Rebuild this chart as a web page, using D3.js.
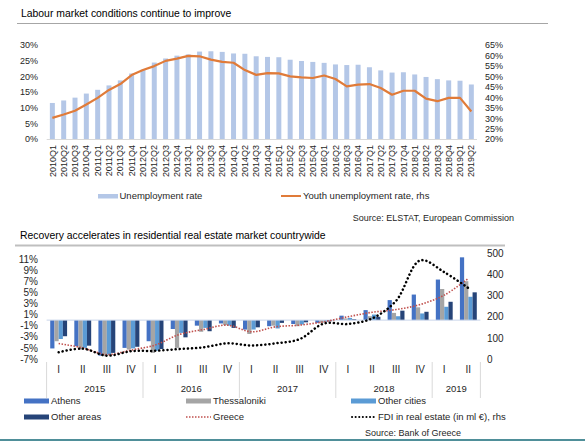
<!DOCTYPE html>
<html><head><meta charset="utf-8">
<script src="https://cdn.jsdelivr.net/npm/d3@7"></script>
<style>
body{margin:0;background:#fff;}
svg{display:block;font-family:"Liberation Sans",Arial,sans-serif;}
</style></head>
<body><svg id="c" width="585" height="441"></svg>
<script>
// ---------- Chart 1 data ----------
const quarters = ["2010Q1","2010Q2","2010Q3","2010Q4","2011Q1","2011Q2","2011Q3","2011Q4",
"2012Q1","2012Q2","2012Q3","2012Q4","2013Q1","2013Q2","2013Q3","2013Q4",
"2014Q1","2014Q2","2014Q3","2014Q4","2015Q1","2015Q2","2015Q3","2015Q4",
"2016Q1","2016Q2","2016Q3","2016Q4","2017Q1","2017Q2","2017Q3","2017Q4",
"2018Q1","2018Q2","2018Q3","2018Q4","2019Q1","2019Q2"];
const unemployment = [11.5,12.3,13.2,14.5,15.7,17.1,18.7,20.9,22.1,24.4,25.7,26.6,27.0,27.9,28.0,27.8,
27.3,27.2,26.4,26.2,26.1,25.3,24.9,24.6,24.3,23.8,23.6,23.7,22.9,21.9,21.2,21.3,20.6,19.8,19.1,18.7,18.6,17.4];
const youthUnemployment = [30.1,31.7,33.5,36.5,39.7,43.5,46.3,50.6,53.0,54.9,57.4,58.5,59.8,59.6,58.0,56.9,
56.5,53.0,50.7,51.5,51.4,50.0,49.5,49.2,50.4,48.7,45.2,46.0,46.3,44.4,41.2,43.1,43.1,39.3,38.1,39.7,39.7,33.2];
const leftTicks1 = [0,5,10,15,20,25,30];
const rightTicks1 = [20,25,30,35,40,45,50,55,60,65];

// ---------- Chart 2 data ----------
const periods = ["2015-I","2015-II","2015-III","2015-IV","2016-I","2016-II","2016-III","2016-IV",
"2017-I","2017-II","2017-III","2017-IV","2018-I","2018-II","2018-III","2018-IV","2019-I","2019-II"];
const quarterLabels = ["I","II","III","IV","I","II","III","IV","I","II","III","IV","I","II","III","IV","I","II"];
const years = ["2015","2016","2017","2018","2019"];
const yearSpans = [4,4,4,4,2];
const athens =       [-5.1,-4.7,-6.4,-5.0,-3.8,-1.6,-1.0,-0.6,-1.7,-1.1,-0.7,-0.5,0.8,1.8,3.6,4.6,7.3,11.3];
const thessaloniki = [-3.8,-5.3,-6.5,-5.3,-5.9,-5.0,-2.1,-0.9,-2.5,-1.0,-1.1,-0.5,0.3,0.7,1.3,2.3,5.6,7.0];
const otherCities =  [-3.4,-5.0,-6.2,-5.1,-5.5,-2.3,-1.4,-1.0,-1.7,-1.5,-0.8,-0.3,0.4,1.0,0.7,1.2,2.4,4.2];
const otherAreas =   [-2.9,-4.6,-5.9,-4.8,-5.2,-3.1,-2.0,-1.4,-1.3,-0.5,-0.4,-0.2,0.15,0.6,1.7,1.5,3.3,5.0];
const greece =       [-4.2,-5.0,-6.2,-5.4,-4.5,-2.6,-1.7,-0.9,-2.1,-1.2,-0.9,-0.3,0.6,1.4,1.9,2.8,4.5,7.5];
const fdi =          [33,50,17,38,40,48,56,75,65,75,95,168,166,192,275,465,410,335];
const leftTicks2 = [-7,-5,-3,-1,1,3,5,7,9,11];
const rightTicks2 = [0,100,200,300,400,500];
const seriesNames = ["Athens","Thessaloniki","Other cities","Other areas"];
const seriesColors = ["#4472c4","#a5a5a5","#5b9bd5","#264478"];

const svg = d3.select("#c");
const txt = "#262626";

// ================= Chart 1 =================
svg.append("text").attr("x",21).attr("y",17).attr("font-size",10.4).attr("fill","#000")
  .text("Labour market conditions continue to improve");
svg.append("line").attr("x1",17).attr("x2",548).attr("y1",23.5).attr("y2",23.5)
  .attr("stroke","#a6a6a6").attr("stroke-width",1);

const x1 = d3.scaleBand().domain(quarters).range([46.7,477]).paddingInner(0.56).paddingOuter(0.28);
const y1L = d3.scaleLinear().domain([0,30]).range([139,45]);
const y1R = d3.scaleLinear().domain([20,65]).range([139,45]);

svg.append("g").selectAll("rect").data(unemployment).join("rect")
  .attr("x",(d,i)=>x1(quarters[i])).attr("width",x1.bandwidth())
  .attr("y",d=>y1L(d)).attr("height",d=>y1L(0)-y1L(d)).attr("fill","#b4c7e7");

svg.append("line").attr("x1",46.7).attr("x2",477).attr("y1",139.5).attr("y2",139.5)
  .attr("stroke","#d9d9d9");

const line1 = d3.line().x((d,i)=>x1(quarters[i])+x1.bandwidth()/2).y(d=>y1R(d));
svg.append("path").datum(youthUnemployment).attr("d",line1).attr("fill","none")
  .attr("stroke","#e07b39").attr("stroke-width",2.2).attr("stroke-linejoin","round");

const axL1 = d3.axisLeft(y1L).tickValues(leftTicks1).tickFormat(d=>d+"%").tickSize(0).tickPadding(0);
const gL1 = svg.append("g").attr("transform","translate(38,0)").call(axL1);
const axR1 = d3.axisRight(y1R).tickValues(rightTicks1).tickFormat(d=>d+"%").tickSize(0).tickPadding(0);
const gR1 = svg.append("g").attr("transform","translate(485,0)").call(axR1);
const axB1 = d3.axisBottom(x1).tickSize(0).tickPadding(0);
const gB1 = svg.append("g").attr("transform","translate(0,145)").call(axB1);
gB1.selectAll("text").attr("transform","rotate(-90)").attr("text-anchor","end")
  .attr("x",0).attr("y",0).attr("dy","0.35em").attr("dx",0);
[gL1,gR1,gB1].forEach(g=>{g.select(".domain").remove();
  g.selectAll("text").attr("font-size",9).attr("fill",txt).attr("font-family","Liberation Sans, Arial, sans-serif");});

// legend 1
svg.append("rect").attr("x",98).attr("y",194).attr("width",20).attr("height",4.5).attr("fill","#b4c7e7");
svg.append("text").attr("x",119.5).attr("y",196).attr("dy","0.35em").attr("font-size",9.5).attr("fill",txt).text("Unemployment rate");
svg.append("line").attr("x1",281).attr("x2",301).attr("y1",196).attr("y2",196).attr("stroke","#e07b39").attr("stroke-width",2);
svg.append("text").attr("x",303).attr("y",196).attr("dy","0.35em").attr("font-size",9.5).attr("fill",txt).text("Youth unemployment rate, rhs");
svg.append("text").attr("x",514).attr("y",218).attr("dy","0.35em").attr("text-anchor","end").attr("font-size",9).attr("fill",txt)
  .text("Source: ELSTAT, European Commission");

// ================= Chart 2 =================
svg.append("text").attr("x",20).attr("y",239).attr("font-size",10.4).attr("fill","#000")
  .text("Recovery accelerates in residential real estate market countrywide");
svg.append("line").attr("x1",15).attr("x2",505).attr("y1",245.5).attr("y2",245.5)
  .attr("stroke","#bfbfbf").attr("stroke-width",2);

const x2 = d3.scaleBand().domain(periods).range([46.6,480.4]).paddingInner(0.3).paddingOuter(0.15);
const xs = d3.scaleBand().domain(seriesNames).range([0,x2.bandwidth()]);
const y2L = d3.scaleLinear().domain([-7,11]).range([359,259]);
const y2R = d3.scaleLinear().domain([0,500]).range([359.3,253]);
const allSeries = [athens,thessaloniki,otherCities,otherAreas];

allSeries.forEach((vals,s)=>{
  svg.append("g").selectAll("rect").data(vals).join("rect")
    .attr("x",(d,i)=>x2(periods[i])+xs(seriesNames[s])).attr("width",xs.bandwidth())
    .attr("y",d=>Math.min(y2L(d),y2L(0))).attr("height",d=>Math.abs(y2L(d)-y2L(0)))
    .attr("fill",seriesColors[s]);
});
svg.append("line").attr("x1",46.6).attr("x2",480.4).attr("y1",y2L(0)).attr("y2",y2L(0))
  .attr("stroke","#c9d5ea").attr("stroke-width",1);

const cx2 = (d,i)=>x2(periods[i])+x2.bandwidth()/2;
svg.append("path").datum(greece).attr("d",d3.line().x(cx2).y(d=>y2L(d)).curve(d3.curveCatmullRom))
  .attr("fill","none").attr("stroke","#c0504d").attr("stroke-width",1.6).attr("stroke-dasharray","1.5,1.5");
svg.append("path").datum(fdi).attr("d",d3.line().x(cx2).y(d=>y2R(d)).curve(d3.curveCatmullRom))
  .attr("fill","none").attr("stroke","#000").attr("stroke-width",2.5).attr("stroke-linecap","round")
  .attr("stroke-dasharray","0.1,4");

const axL2 = d3.axisLeft(y2L).tickValues(leftTicks2).tickFormat(d=>d+"%").tickSize(0).tickPadding(0);
const gL2 = svg.append("g").attr("transform","translate(38,0)").call(axL2);
const axR2 = d3.axisRight(y2R).tickValues(rightTicks2).tickSize(0).tickPadding(0);
const gR2 = svg.append("g").attr("transform","translate(487,0)").call(axR2);
const axB2 = d3.axisBottom(x2).tickSize(0).tickPadding(0).tickFormat((d,i)=>quarterLabels[i]);
const gB2 = svg.append("g").attr("transform","translate(0,366)").call(axB2);
[gL2,gR2,gB2].forEach(g=>{g.select(".domain").remove();
  g.selectAll("text").attr("font-size",10).attr("fill",txt).attr("font-family","Liberation Sans, Arial, sans-serif");});

// year groups
let start = 0;
const step = x2.step();
const x0 = x2.range()[0];
svg.append("line").attr("x1",x0).attr("x2",x0).attr("y1",362).attr("y2",398).attr("stroke","#d9d9d9");
years.forEach((y,k)=>{
  const a = x2(periods[start]) - x2.paddingInner()*step/2;
  const b = a + yearSpans[k]*step;
  svg.append("line").attr("x1",b).attr("x2",b).attr("y1",362).attr("y2",398).attr("stroke","#d9d9d9");
  svg.append("text").attr("x",(a+b)/2).attr("y",389).attr("dy","0.35em").attr("text-anchor","middle")
    .attr("font-size",9.5).attr("fill",txt).text(y);
  start += yearSpans[k];
});

// legend 2
const lg = [
  {n:"Athens",x:24,y:401,type:"rect",c:seriesColors[0]},
  {n:"Thessaloniki",x:186,y:401,type:"rect",c:seriesColors[1]},
  {n:"Other cities",x:351,y:401,type:"rect",c:seriesColors[2]},
  {n:"Other areas",x:24,y:417,type:"rect",c:seriesColors[3]},
  {n:"Greece",x:186,y:417,type:"red"},
  {n:"FDI in real estate (in ml €), rhs",x:351,y:417,type:"black"}
];
lg.forEach(l=>{
  if(l.type==="rect"){
    svg.append("rect").attr("x",l.x).attr("y",l.y-2.5).attr("width",25).attr("height",5).attr("fill",l.c);
  } else if(l.type==="red"){
    svg.append("line").attr("x1",l.x).attr("x2",l.x+25).attr("y1",l.y).attr("y2",l.y)
      .attr("stroke","#c0504d").attr("stroke-width",1.5).attr("stroke-dasharray","1.5,1.5");
  } else {
    svg.append("line").attr("x1",l.x+1).attr("x2",l.x+25).attr("y1",l.y).attr("y2",l.y)
      .attr("stroke","#000").attr("stroke-width",2).attr("stroke-linecap","round").attr("stroke-dasharray","0.1,3.5");
  }
  svg.append("text").attr("x",l.x+27).attr("y",l.y).attr("dy","0.35em").attr("font-size",9.5).attr("fill",txt).text(l.n);
});
svg.append("text").attr("x",461).attr("y",433).attr("dy","0.35em").attr("text-anchor","end").attr("font-size",9).attr("fill",txt)
  .text("Source: Bank of Greece");
svg.append("rect").attr("x",0).attr("y",439).attr("width",585).attr("height",2).attr("fill","#4f8f99");
</script></body></html>
